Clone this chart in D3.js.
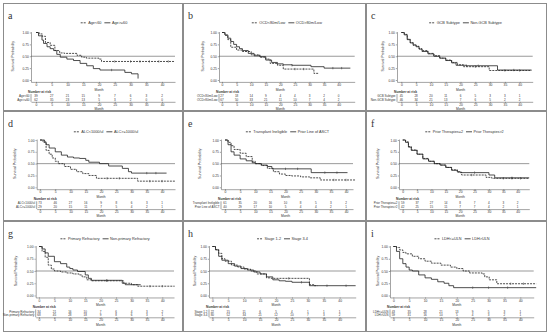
<!DOCTYPE html>
<html>
<head>
<meta charset="utf-8">
<script src="https://cdn.jsdelivr.net/npm/d3@7"></script>
<style>
body { margin: 0; background: #fff; }
svg { display: block; }
text { font-family: Arial, "Liberation Sans", sans-serif; fill: #333; }
</style>
</head>
<body>
<svg id="chart" width="550" height="335"></svg>
<script>
// month ticks and survival ticks shared by every panel
var months = [0, 5, 10, 15, 20, 25, 30, 35, 40];
var yTicks = [0, 0.25, 0.5, 0.75, 1];
var letters = ["a", "b", "c", "d", "e", "f", "g", "h", "i"];
var legendNames = [
    ["Age<60", "Age>=60"],
    ["OCD<80m/Low", "OCD>80m/Low"],
    ["GCB Subtype", "Non-GCB Subtype"],
    ["ALC<1000/ul", "ALC>=1000/ul"],
    ["Transplant Ineligible", "Prior Line of ASCT"],
    ["Prior Therapies=2", "Prior Therapies>2"],
    ["Primary Refractory", "Non-primary Refractory"],
    ["Stage 1-2", "Stage 3-4"],
    ["LDH<=ULN", "LDH>ULN"]
];

// KM steps: [month, survival, censored?]
var aDash = [[0,1],[1,0.97],[2,0.92],[3,0.79],[4.5,0.73],[6,0.62],[7.5,0.57],[9,0.56],[13,0.52],[14.5,0.48],[16,0.46],[20,0.44],[20.8,0.39],[25,0.39,1],[30,0.39,1],[33,0.39,1],[36,0.39,1],[39,0.39,1],[42,0.39,1],[44,0.39]];
var aSolid = [[0,1],[0.8,0.93],[1.9,0.84],[2.4,0.77],[3.5,0.70],[4.5,0.66],[5.6,0.62],[6.6,0.54],[7.7,0.48],[9.8,0.44],[11.9,0.41],[14,0.35],[16.1,0.30],[18.2,0.24],[20.3,0.21],[24,0.21,1],[28.2,0.16],[30.3,0.13],[32.4,0.03]];
var bDash = [[0,1],[1,0.94],[2,0.85],[3,0.69],[5,0.63],[7,0.6],[10,0.53],[13,0.48],[15,0.44],[16.5,0.35],[19,0.31],[21,0.23],[25,0.23,1],[28,0.23,1],[31.5,0.14],[33,0.14]];
var bSolid = [[0,1],[1,0.95],[2,0.88],[3,0.81],[4,0.75],[5,0.7],[6,0.66],[7,0.62],[9,0.56],[11,0.51],[13,0.49],[15,0.42],[17,0.37],[19,0.34],[21,0.32],[24,0.31,1],[30.5,0.28],[35,0.25],[38,0.25,1],[41,0.25,1],[44,0.25]];
var cDash = [[0,1],[1,0.96],[2,0.86],[3,0.79],[4,0.73],[5,0.71],[6,0.66],[7,0.62],[9,0.56],[11,0.51],[13,0.46],[15,0.42],[17,0.37],[19,0.32],[21,0.28],[25,0.28,1],[29.7,0.2],[35,0.2,1],[40,0.2,1],[44,0.2]];
var cSolid = [[0,1],[1,0.95],[2,0.85],[3,0.78],[4,0.74],[5,0.7],[6,0.65],[7,0.6],[9,0.55],[11,0.5],[13,0.46],[15,0.41],[17,0.36],[18.5,0.31],[22,0.3,1],[26,0.3,1],[32.5,0.21],[38,0.21,1],[44,0.21]];
var dDash = [[0,1],[1,0.95],[2,0.78],[3,0.7],[4,0.62],[5,0.55],[6,0.5],[8,0.44],[10,0.38],[12,0.33],[14,0.29],[16,0.25],[18.5,0.19],[22,0.19,1],[26,0.19,1],[32,0.13],[36,0.13,1],[40,0.13,1],[44.5,0.13]];
var dSolid = [[0,1],[1.5,0.96],[2,0.9],[3,0.83],[5,0.75],[7,0.68],[9,0.64],[11,0.62],[13,0.61],[15,0.57],[16,0.53],[19.5,0.5],[22.5,0.45],[27,0.4],[29,0.33],[30,0.3],[35,0.3,1],[38,0.3,1],[41.5,0.3]];
var eDash = [[0,1],[1,0.95],[2,0.88],[3,0.8],[5,0.72],[7,0.65],[9,0.55],[10,0.5],[12,0.46],[14,0.4],[16,0.33],[18,0.28],[20,0.25],[22,0.24],[25,0.22],[28,0.2],[31.5,0.155],[36,0.155,1],[40,0.155,1],[43,0.155]];
var eSolid = [[0,1],[1,0.9],[2,0.75],[3,0.68],[5,0.6],[7,0.56],[9,0.52],[10,0.5],[12,0.47],[14,0.44],[15.5,0.39],[20,0.39,1],[24,0.39,1],[28.5,0.31],[33,0.31,1],[37,0.31,1],[40.5,0.31]];
var fDash = [[0,1],[1,0.96],[2,0.86],[3,0.79],[5,0.7],[7,0.61],[9,0.55],[11,0.5],[13,0.47],[15,0.42],[17,0.37],[19,0.32],[20.5,0.26],[24,0.26,1],[29,0.21],[31,0.19],[35,0.19,1],[38,0.19,1],[41,0.19,1],[44,0.19]];
var fSolid = [[0,1],[1,0.95],[2,0.85],[3,0.78],[5,0.7],[7,0.6],[9,0.55],[11,0.5],[13,0.47],[15,0.42],[17,0.36],[19,0.33],[20,0.31],[25,0.31,1],[30,0.26],[32,0.2],[38,0.2,1],[44,0.2]];
var gDash = [[0,1],[1,0.9],[2,0.78],[3,0.62],[4,0.54],[5,0.5],[7,0.48],[9,0.46],[11,0.44],[13,0.42],[14,0.38],[15.5,0.32],[17,0.3],[22,0.3,1],[27.5,0.25],[30,0.22],[32,0.19],[36,0.19,1],[40,0.19,1],[44,0.19]];
var gSolid = [[0,1],[1,0.95],[2,0.87],[3,0.8],[5,0.69],[7,0.65],[9,0.58],[10,0.55],[11,0.52],[12.5,0.49],[15,0.42],[16,0.35],[17,0.31],[22,0.31,1],[27,0.25],[28,0.22],[33,0.22]];
var hDash = [[0,1],[1,0.94],[2,0.86],[3,0.75],[4,0.7],[6,0.62],[8,0.58],[10,0.54],[12,0.5],[14,0.44],[17,0.36],[18.5,0.35],[24,0.35,1],[30.5,0.22],[32,0.2],[33,0.2]];
var hSolid = [[0,1],[1,0.93],[2,0.8],[3,0.72],[5,0.65],[7,0.6],[9,0.55],[11,0.52],[13,0.48],[15,0.44],[17,0.38],[19,0.32],[21,0.3],[23,0.29],[25,0.27],[28,0.27,1],[30.5,0.2],[36,0.2,1],[42,0.2,1],[45,0.2]];
var iDash = [[0,1],[1,0.98],[2,0.93],[3,0.88],[4,0.85],[6,0.8],[8,0.75],[10,0.7],[12,0.66],[15,0.62],[18,0.58],[20,0.55],[22,0.5],[24,0.46],[28,0.44],[28.8,0.38],[30.2,0.32],[32.6,0.24],[37,0.24,1],[41,0.24,1],[45,0.24]];
var iSolid = [[0,1],[1,0.9],[2,0.75],[3,0.65],[4,0.58],[5,0.52],[6,0.5],[8,0.42],[10,0.36],[12,0.33],[14,0.28],[16,0.25],[17.5,0.2],[19,0.16],[25,0.16,1],[30,0.16,1],[36,0.16,1],[45,0.16]];

// number at risk, one row per group
var riskA = [[39,27,21,15,9,7,6,3,2],[62,35,23,13,5,3,2,0,0]];
var riskB = [[27,18,14,9,4,4,3,2,0],[67,50,33,21,11,10,7,4,2]];
var riskC = [[45,28,20,11,6,5,3,3,1],[46,34,21,13,7,6,5,2,2]];
var riskD = [[73,46,27,16,9,8,6,3,1],[29,20,15,11,7,5,4,2,1]];
var riskE = [[61,35,20,16,10,8,5,3,2],[40,29,17,10,5,4,4,2,1]];
var riskF = [[59,37,27,14,8,7,4,3,2],[42,25,15,11,7,7,4,2,1]];
var riskG = [[34,21,16,10,7,6,4,3,2],[68,45,28,18,9,8,6,3,1]];
var riskH = [[22,15,11,6,5,4,1,1,1],[80,52,34,21,12,10,7,3,2]];
var riskI = [[43,35,28,21,13,9,5,3,1],[59,31,16,10,5,4,3,2,1]];

var dashCurves = [aDash, bDash, cDash, dDash, eDash, fDash, gDash, hDash, iDash];
var solidCurves = [aSolid, bSolid, cSolid, dSolid, eSolid, fSolid, gSolid, hSolid, iSolid];
var risks = [riskA, riskB, riskC, riskD, riskE, riskF, riskG, riskH, riskI];

// panel box [x, y, w, h], then axis x, month 0 x, month 40 x, right end, y-title x (relative)
var layout = [
    [3, 3, 180, 108, 28, 33, 159, 172, 11],
    [183, 3, 183, 108, 36, 39, 155.7, 171.7, 20.5],
    [366, 3, 181, 108, 31, 35.3, 153.7, 166.7, 18],
    [3, 111, 180, 110, 33.7, 37, 159, 172, 13],
    [183, 111, 183, 110, 38, 42, 163, 170, 18],
    [366, 111, 181, 110, 33, 36.7, 151.7, 163.3, 13],
    [3, 221, 180, 111, 32.7, 36, 159.3, 171, 14],
    [183, 221, 183, 111, 26, 29.3, 156.7, 172.7, 12.7],
    [366, 221, 181, 111, 24, 27.3, 154.3, 167.7, 12.7]
];
// absolute y of survival 1.0 / 0.0 and legend for each row of panels
var rowY = [[32.5, 80, 24], [140, 187.3, 133], [246.5, 295.5, 240]];

var svg = d3.select("#chart");
var ink = "#222";

function styleAxis(g) {
    g.attr("font-size", null).attr("font-family", null);
    g.selectAll("path, line").attr("stroke", "#666").attr("stroke-width", 0.6);
    g.selectAll("text").style("font-size", "3.3px").attr("fill", "#444");
}

for (var i = 0; i < 9; i++) {
    var L = layout[i];
    var R = rowY[Math.floor(i / 3)];
    var g = svg.append("g").attr("transform", "translate(" + L[0] + "," + L[1] + ")");

    g.append("rect")
        .attr("x", 0.5).attr("y", 0.5)
        .attr("width", L[2] - 1).attr("height", L[3] - 1)
        .attr("fill", "none").attr("stroke", "#8c8c8c").attr("stroke-width", 1);

    g.append("text")
        .attr("x", 5).attr("y", 16)
        .style("font-family", "'Liberation Serif', 'DejaVu Serif', serif")
        .style("font-size", "10px").attr("fill", "#222")
        .text(letters[i]);

    var yTop = R[0] - L[1], yBot = R[1] - L[1];
    var x = d3.scaleLinear().domain([0, 40]).range([L[5], L[6]]);
    var y = d3.scaleLinear().domain([0, 1]).range([yBot, yTop]);
    var xAxisScale = d3.scaleLinear().domain([x.invert(L[4]), x.invert(L[7])]).range([L[4], L[7]]);
    var yAxisScale = d3.scaleLinear().domain([-0.04, 1.02]).range([y(-0.04), y(1.02)]);

    // axes
    g.append("g")
        .attr("transform", "translate(0," + y(-0.04) + ")")
        .call(d3.axisBottom(xAxisScale).tickValues(months).tickSize(1.2).tickSizeOuter(0).tickPadding(0.6))
        .call(styleAxis);
    g.append("g")
        .attr("transform", "translate(" + L[4] + ",0)")
        .call(d3.axisLeft(yAxisScale).tickValues(yTicks).tickFormat(d3.format(".2f")).tickSize(1.2).tickSizeOuter(0).tickPadding(1))
        .call(styleAxis);

    g.append("text")
        .attr("x", x(20)).attr("y", y(-0.04) + 8.6)
        .attr("text-anchor", "middle").style("font-size", "3.3px").attr("fill", "#444")
        .text("Month");
    g.append("text")
        .attr("transform", "translate(" + L[8] + "," + ((yTop + yBot) / 2) + ") rotate(-90)")
        .attr("text-anchor", "middle").style("font-size", "3.6px").attr("fill", "#444")
        .text("Survival Probability");

    // median reference
    g.append("line")
        .attr("x1", L[4]).attr("x2", L[7])
        .attr("y1", y(0.5)).attr("y2", y(0.5))
        .attr("stroke", "#555").attr("stroke-width", 0.6);

    var line = d3.line()
        .x(function (d) { return x(d[0]); })
        .y(function (d) { return y(d[1]); })
        .curve(d3.curveStepAfter);

    [dashCurves[i], solidCurves[i]].forEach(function (pts, k) {
        g.append("path")
            .attr("d", line(pts))
            .attr("fill", "none")
            .attr("stroke", ink)
            .attr("stroke-width", 0.8)
            .attr("stroke-dasharray", k === 0 ? "2,1" : null);
        g.selectAll(null)
            .data(pts.filter(function (d) { return d[2]; }))
            .enter().append("line")
            .attr("x1", function (d) { return x(d[0]); })
            .attr("x2", function (d) { return x(d[0]); })
            .attr("y1", function (d) { return y(d[1]) - 1.2; })
            .attr("y2", function (d) { return y(d[1]) + 1.2; })
            .attr("stroke", ink).attr("stroke-width", 0.5);
    });

    // legend
    var legY = R[2] - L[1];
    var leg = g.append("g");
    var cx = 0;
    legendNames[i].forEach(function (name, k) {
        leg.append("line")
            .attr("x1", cx).attr("x2", cx + 6)
            .attr("y1", legY - 1.2).attr("y2", legY - 1.2)
            .attr("stroke", ink).attr("stroke-width", 0.8)
            .attr("stroke-dasharray", k === 0 ? "2,1" : null);
        var t = leg.append("text")
            .attr("x", cx + 7.5).attr("y", legY)
            .style("font-size", "3.8px").attr("fill", "#333")
            .text(name);
        cx += 7.5 + t.node().getComputedTextLength() + 3;
    });
    leg.attr("transform", "translate(" + ((L[5] + L[7]) / 2 - cx / 2) + ",0)");

    // number at risk table
    var base = yBot;
    g.append("text")
        .attr("x", L[4] - 3).attr("y", base + 12.5)
        .style("font-size", "3.3px").style("font-weight", "bold").attr("fill", "#333")
        .text("Number at risk");
    risks[i].forEach(function (row, k) {
        var ry = base + 17 + k * 3.5;
        g.append("text")
            .attr("x", L[4] - 1.5).attr("y", ry)
            .attr("text-anchor", "end")
            .style("font-size", "3px").attr("fill", "#444")
            .text(legendNames[i][k]);
        g.selectAll(null)
            .data(row)
            .enter().append("text")
            .attr("x", function (d, j) { return x(months[j]); })
            .attr("y", ry)
            .attr("text-anchor", "middle")
            .style("font-size", "3px").attr("fill", "#444")
            .text(function (d) { return d; });
    });
    g.append("line")
        .attr("x1", L[4]).attr("x2", L[4])
        .attr("y1", base + 14).attr("y2", base + 21.8)
        .attr("stroke", "#666").attr("stroke-width", 0.6);
    g.append("g")
        .attr("transform", "translate(0," + (base + 21.8) + ")")
        .call(d3.axisBottom(xAxisScale).tickValues(months).tickSize(1.2).tickSizeOuter(0).tickPadding(0.6))
        .call(styleAxis);
    g.append("text")
        .attr("x", x(20)).attr("y", base + 30)
        .attr("text-anchor", "middle").style("font-size", "3.3px").attr("fill", "#444")
        .text("Month");
}
</script>
</body>
</html>
